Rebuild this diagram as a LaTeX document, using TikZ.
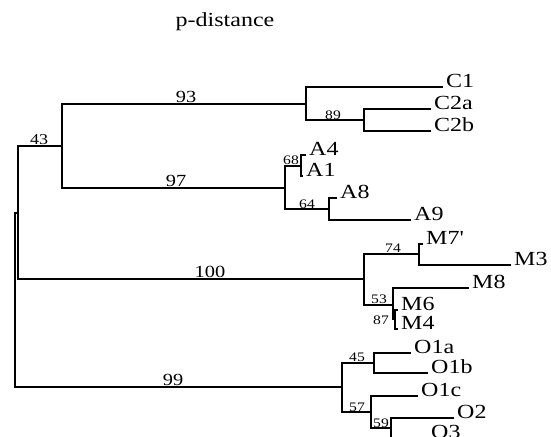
\documentclass[tikz,border=0pt]{standalone}
\usepackage{fontspec}
\setmainfont{Liberation Serif}[FakeStretch=1.2]
\begin{document}
\begin{tikzpicture}[x=1pt,y=-1pt,
  br/.style={line width=1.9pt, line cap=rect},
  tiplab/.style={anchor=base west, inner sep=0pt, xshift=4pt, font=\fontsize{20}{20}\selectfont},
  bsbig/.style={anchor=base, inner sep=0pt, font=\fontsize{17}{17}\selectfont},
  bsmid/.style={anchor=base, inner sep=0pt, font=\fontsize{15}{15}\selectfont},
  bssmall/.style={anchor=base, inner sep=0pt, font=\fontsize{13}{13}\selectfont}]
\useasboundingbox (0,0) rectangle (551,436);
\node[anchor=base, inner sep=0pt, font=\fontsize{20}{20}\selectfont] (title) at (225,27) {p-distance};
% internal nodes
\coordinate (root) at (15,300);
\coordinate (nB) at (18,213);
\coordinate (n43) at (62,146);
\coordinate (n93) at (306,104);
\coordinate (n89) at (364,120);
\coordinate (n97) at (285,188);
\coordinate (n68) at (301,166);
\coordinate (n64) at (329,209);
\coordinate (n100) at (364,279);
\coordinate (n74) at (419,254);
\coordinate (n53) at (393,305);
\coordinate (n87) at (395,319);
\coordinate (n99) at (342,387);
\coordinate (n45) at (374,363);
\coordinate (n57) at (371,412);
\coordinate (n59) at (391,428);
% tips
\coordinate (tC1) at (442,87);
\coordinate (tC2a) at (430,109);
\coordinate (tC2b) at (430,131);
\coordinate (tA4) at (305,155);
\coordinate (tA1) at (302,176);
\coordinate (tA8) at (336,198);
\coordinate (tA9) at (410,220);
\coordinate (tM7) at (422,244);
\coordinate (tM3) at (510,265);
\coordinate (tM8) at (468,288);
\coordinate (tM6) at (397,310);
\coordinate (tM4) at (397,329);
\coordinate (tO1a) at (410,353);
\coordinate (tO1b) at (427,373);
\coordinate (tO1c) at (417,396);
\coordinate (tO2) at (453,418);
\coordinate (tO3) at (427,438);
% branches
\draw[br] (root) |- (nB);
\draw[br] (root) |- (n99);
\draw[br] (nB) |- (n43);
\draw[br] (nB) |- (n100);
\draw[br] (n43) |- (n93);
\draw[br] (n43) |- (n97);
\draw[br] (n93) |- (tC1);
\draw[br] (n93) |- (n89);
\draw[br] (n89) |- (tC2a);
\draw[br] (n89) |- (tC2b);
\draw[br] (n97) |- (n68);
\draw[br] (n97) |- (n64);
\draw[br] (n68) |- (tA4);
\draw[br] (n68) |- (tA1);
\draw[br] (n64) |- (tA8);
\draw[br] (n64) |- (tA9);
\draw[br] (n100) |- (n74);
\draw[br] (n100) |- (n53);
\draw[br] (n74) |- (tM7);
\draw[br] (n74) |- (tM3);
\draw[br] (n53) |- (tM8);
\draw[br] (n53) |- (n87);
\draw[br] (n87) |- (tM6);
\draw[br] (n87) |- (tM4);
\draw[br] (n99) |- (n45);
\draw[br] (n99) |- (n57);
\draw[br] (n45) |- (tO1a);
\draw[br] (n45) |- (tO1b);
\draw[br] (n57) |- (tO1c);
\draw[br] (n57) |- (n59);
\draw[br] (n59) |- (tO2);
\draw[br] (n59) |- (tO3);
% tip labels
\node[tiplab] (lC1) at (tC1) {C1};
\node[tiplab] (lC2a) at (tC2a) {C2a};
\node[tiplab] (lC2b) at (tC2b) {C2b};
\node[tiplab] (lA4) at (tA4) {A4};
\node[tiplab] (lA1) at (tA1) {A1};
\node[tiplab] (lA8) at (tA8) {A8};
\node[tiplab] (lA9) at (tA9) {A9};
\node[tiplab] (lM7) at (tM7) {M7\addfontfeatures{Ligatures=TeXOff}'};
\node[tiplab] (lM3) at (tM3) {M3};
\node[tiplab] (lM8) at (tM8) {M8};
\node[tiplab] (lM6) at (tM6) {M6};
\node[tiplab] (lM4) at (tM4) {M4};
\node[tiplab] (lO1a) at (tO1a) {O1a};
\node[tiplab] (lO1b) at (tO1b) {O1b};
\node[tiplab] (lO1c) at (tO1c) {O1c};
\node[tiplab] (lO2) at (tO2) {O2};
\node[tiplab] (lO3) at (tO3) {O3};
% support values
\node[bsbig] (b93) at (186,102) {93};
\node[bsbig] (b97) at (176,186) {97};
\node[bsmid] (b43) at (39,144) {43};
\node[bsbig] (b100) at (210,277) {100};
\node[bsbig] (b99) at (173,385) {99};
\node[bssmall] (b89) at (333,119) {89};
\node[bssmall] (b68) at (291,164) {68};
\node[bssmall] (b64) at (307,208) {64};
\node[bssmall] (b74) at (393,252) {74};
\node[bssmall] (b53) at (379,303) {53};
\node[bssmall] (b87) at (381,324) {87};
\node[bssmall] (b45) at (357,361) {45};
\node[bssmall] (b57) at (357,411) {57};
\node[bssmall] (b59) at (381,427) {59};
\end{tikzpicture}
\end{document}
